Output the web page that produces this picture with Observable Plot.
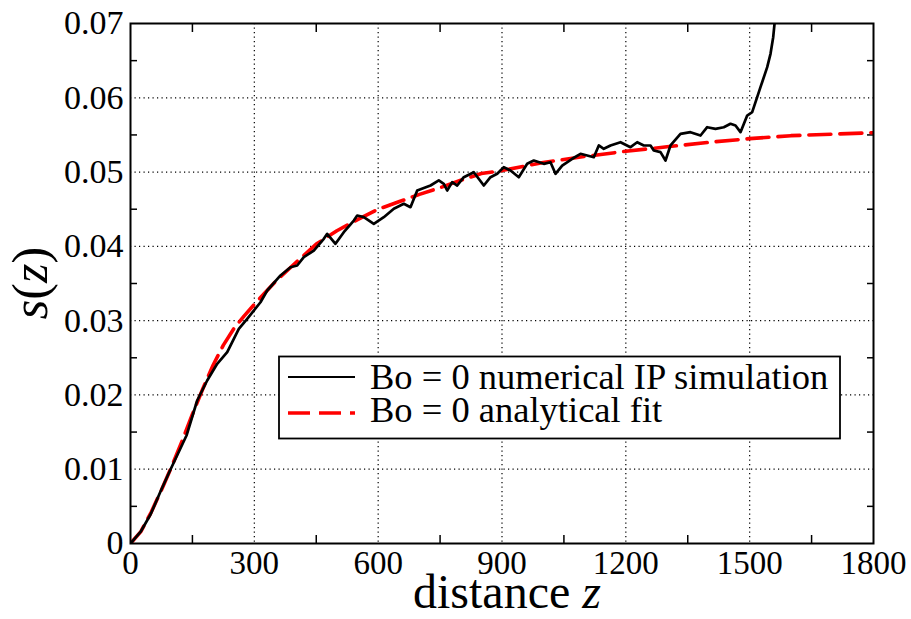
<!DOCTYPE html>
<html>
<head>
<meta charset="utf-8">
<script src="https://cdn.jsdelivr.net/npm/d3@7"></script>
<script src="https://cdn.jsdelivr.net/npm/@observablehq/plot@0.6"></script>
<style>
  html, body { margin: 0; padding: 0; background: #fff; }
  #chart svg { display: block; }
</style>
</head>
<body>
<div id="chart"></div>
<script>
// ---- data ----
const zSim = [0, 24.2, 48.5, 72.7, 96.9, 135.7, 161.6, 185.8, 210.0, 234.3, 246.4, 262.4, 282.7, 314.9, 331.2, 363.4, 387.6, 403.8, 419.8, 444.1, 468.3, 476.5, 496.6, 516.7, 541.0, 549.2, 565.2, 589.4, 613.6, 637.9, 662.1, 678.3, 694.6, 726.8, 746.9, 759.0, 767.2, 779.3, 791.5, 807.4, 831.7, 855.9, 872.1, 888.4, 904.4, 920.6, 940.7, 961.0, 977.0, 1001.3, 1017.5, 1029.6, 1045.8, 1070.1, 1090.2, 1106.4, 1122.4, 1134.5, 1146.6, 1162.9, 1187.1, 1211.3, 1227.5, 1243.5, 1259.8, 1267.7, 1284.0, 1296.1, 1308.2, 1332.4, 1356.6, 1380.9, 1397.1, 1417.2, 1437.3, 1453.6, 1465.7, 1477.8, 1494.0, 1506.1, 1518.2, 1526.2, 1542.5, 1550.5, 1557.0, 1561.0, 1566.0];
const sSim = [0, 0.00155, 0.00390, 0.00700, 0.00996, 0.01454, 0.01925, 0.02194, 0.02419, 0.02575, 0.02710, 0.02890, 0.03025, 0.03248, 0.03406, 0.03608, 0.03719, 0.03742, 0.03854, 0.03944, 0.04102, 0.04169, 0.04034, 0.04191, 0.04348, 0.04415, 0.04393, 0.04304, 0.04393, 0.04506, 0.04573, 0.04527, 0.04752, 0.04819, 0.04887, 0.04842, 0.04752, 0.04864, 0.04819, 0.04931, 0.04998, 0.04819, 0.04931, 0.04977, 0.05066, 0.05021, 0.04931, 0.05111, 0.05156, 0.05111, 0.05133, 0.04977, 0.05088, 0.05179, 0.05246, 0.05223, 0.05200, 0.05358, 0.05313, 0.05358, 0.05402, 0.05335, 0.05402, 0.05358, 0.05358, 0.05290, 0.05268, 0.05156, 0.05358, 0.05515, 0.05537, 0.05492, 0.05604, 0.05582, 0.05604, 0.05650, 0.05627, 0.05537, 0.05761, 0.05806, 0.06008, 0.06143, 0.06412, 0.06592, 0.06816, 0.0704, 0.0760];

const zFit = [0, 25, 50, 75, 100, 125, 150, 175, 200, 225, 250, 275, 300, 350, 400, 450, 500, 550, 600, 650, 700, 750, 800, 850, 900, 1000, 1100, 1200, 1300, 1400, 1500, 1600, 1700, 1800];
const sFit = [0, 0.0016, 0.0042, 0.0072, 0.0104, 0.0138, 0.0174, 0.0208, 0.0240, 0.0267, 0.0289, 0.0306, 0.0322, 0.0352, 0.0378, 0.0403, 0.0421, 0.0436, 0.0450, 0.0460, 0.0470, 0.0479, 0.0489, 0.0498, 0.0502, 0.0513, 0.0521, 0.0528, 0.0534, 0.0540, 0.0545, 0.0549, 0.0551, 0.0553];

const xMajor = [0, 300, 600, 900, 1200, 1500, 1800];
const xMinor = [150, 450, 750, 1050, 1350, 1650];
const yMajor = [0, 0.01, 0.02, 0.03, 0.04, 0.05, 0.06, 0.07];
const yMinor = [0.005, 0.015, 0.025, 0.035, 0.045, 0.055, 0.065];
const xGrid = [300, 600, 900, 1200, 1500];
const yGrid = [0.01, 0.02, 0.03, 0.04, 0.05, 0.06];

const legendLabels = ["Bo = 0 numerical IP simulation", "Bo = 0 analytical fit"];

const sim = zSim.map((z, i) => ({z, s: sSim[i]}));
const fit = zFit.map((z, i) => ({z, s: sFit[i]}));

const FONT = "'Liberation Serif', 'DejaVu Serif', serif";

const plot = Plot.plot({
  width: 911,
  height: 619,
  marginLeft: 130,
  marginRight: 38,
  marginTop: 23,
  marginBottom: 76,
  style: {fontFamily: FONT, background: "white", color: "black"},
  x: {domain: [0, 1800]},
  y: {domain: [0, 0.07]},
  marks: [
    Plot.gridX(xGrid, {stroke: "black", strokeOpacity: 1, strokeWidth: 1.2, strokeDasharray: "1.2,3.3"}),
    Plot.gridY(yGrid, {stroke: "black", strokeOpacity: 1, strokeWidth: 1.2, strokeDasharray: "1.2,3.3"}),
    // minor ticks pointing inward on all four sides
    Plot.axisX({anchor: "bottom", ticks: xMinor, tickSize: -8, text: null, strokeWidth: 1.5, label: null}),
    Plot.axisX({anchor: "top", ticks: xMinor, tickSize: -8, text: null, strokeWidth: 1.5, label: null}),
    Plot.axisY({anchor: "left", ticks: yMinor, tickSize: -7, text: null, strokeWidth: 1.5, label: null}),
    Plot.axisY({anchor: "right", ticks: yMinor, tickSize: -7, text: null, strokeWidth: 1.5, label: null}),
    // tick labels
    Plot.axisX({anchor: "bottom", ticks: xMajor, tickSize: 0, tickPadding: 7, fontSize: 33, label: null, tickFormat: d => String(d)}),
    Plot.axisY({anchor: "left", ticks: yMajor, tickSize: 0, tickPadding: 7, fontSize: 34, label: null, tickFormat: d => d === 0 ? "0" : d.toFixed(2)}),
    Plot.line(fit, {x: "z", y: "s", stroke: "#ff0000", strokeWidth: 3.6, strokeDasharray: "22,9", clip: true}),
    Plot.line(sim, {x: "z", y: "s", stroke: "black", strokeWidth: 2.7, clip: true, strokeLinejoin: "round"}),
    Plot.frame({stroke: "black", strokeWidth: 2})
  ]
});

document.getElementById("chart").appendChild(plot);

const svg = d3.select(plot);

// axis titles with italic variables
const xt = svg.append("text")
  .attr("x", 507).attr("y", 608)
  .attr("text-anchor", "middle")
  .attr("font-family", FONT).attr("font-size", 48).attr("fill", "black");
xt.append("tspan").text("distance ");
xt.append("tspan").attr("font-style", "italic").text("z");

const yt = svg.append("text")
  .attr("transform", "translate(47,283) rotate(-90)")
  .attr("text-anchor", "middle")
  .attr("font-family", FONT).attr("font-size", 50).attr("fill", "black");
yt.append("tspan").attr("font-style", "italic").text("s");
yt.append("tspan").text("(");
yt.append("tspan").attr("font-style", "italic").text("z");
yt.append("tspan").text(")");

// legend
const lg = svg.append("g").attr("text-anchor", "start");
lg.append("rect").attr("x", 279).attr("y", 356.5).attr("width", 561).attr("height", 82)
  .attr("fill", "white").attr("stroke", "black").attr("stroke-width", 1.8);
lg.append("line").attr("x1", 288).attr("x2", 355).attr("y1", 377).attr("y2", 377)
  .attr("stroke", "black").attr("stroke-width", 2.2);
lg.append("line").attr("x1", 288).attr("x2", 355).attr("y1", 413).attr("y2", 413)
  .attr("stroke", "#ff0000").attr("stroke-width", 3.6).attr("stroke-dasharray", "22,9");
legendLabels.forEach((t, i) => {
  lg.append("text").attr("x", 370).attr("y", 389 + i * 33)
    .attr("text-anchor", "start")
    .attr("font-family", FONT).attr("font-size", 36.5).attr("fill", "black").text(t);
});
</script>
</body>
</html>
